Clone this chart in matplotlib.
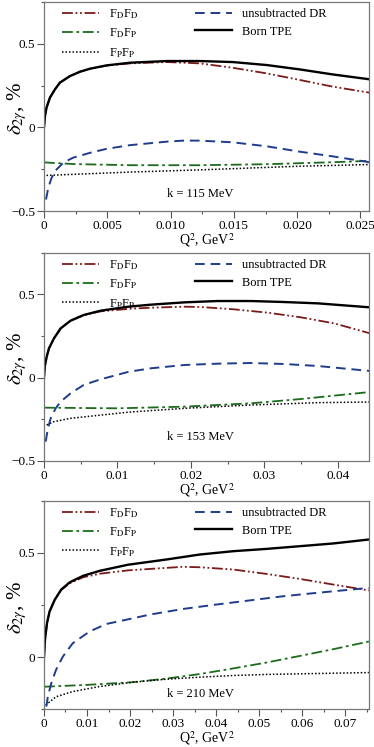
import matplotlib
matplotlib.use("Agg")
import matplotlib.pyplot as plt
from matplotlib.ticker import MultipleLocator

plt.rcParams["font.family"] = ["Liberation Serif", "DejaVu Serif"]
plt.rcParams["mathtext.fontset"] = "stix"
plt.rcParams["font.size"] = 9

# k = 115 MeV
q1_born = [0.0, 0.00008, 0.0002, 0.00047, 0.00087, 0.00126, 0.00205, 0.00284, 0.00363, 0.00495, 0.0068, 0.0097, 0.0123, 0.0149, 0.0176, 0.0202, 0.0228, 0.0257]
born1 = [0.0, 0.068, 0.118, 0.178, 0.228, 0.268, 0.307, 0.333, 0.351, 0.371, 0.387, 0.397, 0.397, 0.391, 0.373, 0.347, 0.317, 0.288]
q1_dd = [0.0, 0.00008, 0.0002, 0.00047, 0.00087, 0.00126, 0.00205, 0.00284, 0.00363, 0.00495, 0.0068, 0.0097, 0.0123, 0.0149, 0.0176, 0.0202, 0.0228, 0.0257]
dd1 = [0.0, 0.068, 0.118, 0.178, 0.228, 0.268, 0.307, 0.333, 0.351, 0.370, 0.383, 0.391, 0.383, 0.357, 0.323, 0.284, 0.244, 0.208]
q1_dr = [0.00016, 0.00034, 0.0006, 0.001, 0.00153, 0.0023, 0.00363, 0.00495, 0.0068, 0.0097, 0.011, 0.0123, 0.0149, 0.0176, 0.0202, 0.0228, 0.0257]
dr1 = [-0.431, -0.361, -0.301, -0.251, -0.211, -0.181, -0.152, -0.128, -0.106, -0.085, -0.079, -0.079, -0.089, -0.113, -0.145, -0.173, -0.208]
q1_dp = [0.0, 0.0023, 0.0068, 0.0123, 0.0176, 0.0228, 0.0257]
dp1 = [-0.209, -0.219, -0.226, -0.226, -0.220, -0.208, -0.200]
q1_pp = [0.0002, 0.0068, 0.0123, 0.0202, 0.0257]
pp1 = [-0.287, -0.267, -0.254, -0.232, -0.222]

# k = 153 MeV
q2_born = [0.0, 0.0001, 0.00037, 0.00068, 0.00136, 0.00227, 0.00362, 0.0054, 0.0077, 0.0115, 0.0145, 0.0191, 0.0236, 0.0282, 0.0327, 0.0373, 0.0444]
born2 = [0.0, 0.066, 0.126, 0.176, 0.236, 0.296, 0.342, 0.376, 0.402, 0.426, 0.438, 0.452, 0.46, 0.46, 0.454, 0.446, 0.422]
q2_dd = [0.0, 0.0001, 0.00037, 0.00068, 0.00136, 0.00227, 0.00362, 0.0054, 0.0077, 0.0115, 0.0145, 0.0191, 0.0214, 0.0259, 0.0305, 0.035, 0.0395, 0.0444]
dd2 = [0.0, 0.066, 0.126, 0.176, 0.236, 0.296, 0.342, 0.375, 0.398, 0.413, 0.42, 0.426, 0.424, 0.41, 0.39, 0.362, 0.326, 0.266]
q2_dr = [0.00023, 0.00054, 0.00091, 0.00159, 0.00227, 0.00362, 0.0054, 0.0077, 0.0115, 0.0145, 0.0191, 0.0236, 0.0282, 0.0327, 0.0373, 0.0444]
dr2 = [-0.384, -0.304, -0.244, -0.184, -0.144, -0.094, -0.044, -0.01, 0.035, 0.056, 0.076, 0.084, 0.088, 0.082, 0.07, 0.04]
q2_dp = [0.0, 0.010, 0.0191, 0.0282, 0.035, 0.0444]
dp2 = [-0.18, -0.184, -0.174, -0.154, -0.128, -0.086]
q2_pp = [0.00037, 0.00136, 0.00362, 0.0115, 0.0191, 0.0282, 0.0373, 0.0444]
pp2 = [-0.284, -0.264, -0.244, -0.207, -0.184, -0.164, -0.15, -0.146]

# k = 210 MeV
q3_born = [0.0, 0.00023, 0.0007, 0.0013, 0.0025, 0.004, 0.006, 0.0091, 0.013, 0.0195, 0.0284, 0.0362, 0.044, 0.0517, 0.0595, 0.0672, 0.0755]
born3 = [0.0, 0.083, 0.163, 0.219, 0.275, 0.324, 0.359, 0.390, 0.414, 0.443, 0.468, 0.492, 0.508, 0.519, 0.532, 0.545, 0.564]
q3_dd = [0.0, 0.00023, 0.0007, 0.0013, 0.0025, 0.004, 0.006, 0.0091, 0.013, 0.0195, 0.0284, 0.0323, 0.0362, 0.044, 0.0517, 0.0595, 0.0672, 0.0755]
dd3 = [0.0, 0.083, 0.163, 0.219, 0.275, 0.322, 0.354, 0.383, 0.400, 0.416, 0.428, 0.433, 0.431, 0.42, 0.399, 0.375, 0.348, 0.32]
q3_dr = [0.00055, 0.0009, 0.0017, 0.0028, 0.0044, 0.0067, 0.0106, 0.0145, 0.0195, 0.0246, 0.0323, 0.040, 0.0478, 0.0556, 0.0633, 0.0755]
dr3 = [-0.237, -0.189, -0.125, -0.061, 0.003, 0.067, 0.123, 0.159, 0.181, 0.204, 0.231, 0.252, 0.272, 0.292, 0.308, 0.332]
q3_dp = [0.0, 0.010, 0.0207, 0.0284, 0.0362, 0.044, 0.0517, 0.0595, 0.0672, 0.0755]
dp3 = [-0.142, -0.133, -0.120, -0.103, -0.081, -0.054, -0.026, 0.006, 0.038, 0.075]
q3_pp = [0.0004, 0.0028, 0.0067, 0.0129, 0.0207, 0.0284, 0.0362, 0.044, 0.0517, 0.0595, 0.0755]
pp3 = [-0.23, -0.19, -0.165, -0.141, -0.12, -0.106, -0.096, -0.088, -0.083, -0.08, -0.074]

panels = [
    ("k = 115 MeV", 0.0257, -0.5, 0.0025, 0.053,
     (q1_dd, dd1), (q1_dp, dp1), (q1_pp, pp1), (q1_dr, dr1), (q1_born, born1)),
    ("k = 153 MeV", 0.0443, -0.5, 0.005, 0.088,
     (q2_dd, dd2), (q2_dp, dp2), (q2_pp, pp2), (q2_dr, dr2), (q2_born, born2)),
    ("k = 210 MeV", 0.0756, -0.25, 0.005, 0.045,
     (q3_dd, dd3), (q3_dp, dp3), (q3_pp, pp3), (q3_dr, dr3), (q3_born, born3)),
]
labels = [r"F$_\mathrm{D}$F$_\mathrm{D}$", r"F$_\mathrm{D}$F$_\mathrm{P}$",
          r"F$_\mathrm{P}$F$_\mathrm{P}$", "unsubtracted DR", "Born TPE"]
styles = [
    dict(color="#7a1a1a", lw=1.3, ls=(0, (6, 1.5, 1, 1.5, 1, 1.5))),
    dict(color="#1c6b1c", lw=1.3, ls=(0, (6, 2, 1.5, 2))),
    dict(color="black", lw=1.1, ls=(0, (1, 1.3))),
    dict(color="#1f3c8c", lw=1.4, ls=(0, (5, 3))),
    dict(color="black", lw=1.7, ls="-"),
]
majors = [0.005, 0.01, 0.01]
boxes = [(0.7175, 0.9973), (0.3829, 0.6617), (0.0505, 0.3297)]

fig = plt.figure(figsize=(3.74, 7.47), dpi=100)
for (title, xmax, ymin, xminor, ty, *series), major, (b, t) in zip(panels, majors, boxes):
    ax = fig.add_axes([0.1176, b, 0.9875 - 0.1176, t - b])
    for (x, y), lab, st in zip(series, labels, styles):
        ax.plot(x, y, label=lab, **st)
    ax.set_xlim(0, xmax)
    ax.set_ylim(ymin, 0.75)
    ax.xaxis.set_major_locator(MultipleLocator(major))
    ax.xaxis.set_minor_locator(MultipleLocator(xminor))
    ax.yaxis.set_major_locator(MultipleLocator(0.5))
    ax.yaxis.set_minor_locator(MultipleLocator(0.25))
    fmt = "{:.2f}" if major == 0.01 else "{:.3f}"
    ax.xaxis.set_major_formatter(plt.FuncFormatter(lambda v, p, f=fmt: "0" if abs(v) < 1e-9 else f.format(v)))
    ax.yaxis.set_major_formatter(plt.FuncFormatter(lambda v, p: "0" if abs(v) < 1e-9 else f"{v:g}".replace("-", "\u2212")))
    ax.tick_params(which="major", direction="out", length=5, width=0.8, color="#555", labelsize=9.5, pad=1.5)
    ax.tick_params(which="minor", direction="out", length=2.5, width=0.8, color="#555")
    ax.tick_params(top=False, right=False)
    for sp in ax.spines.values():
        sp.set_color("#777")
        sp.set_linewidth(0.9)
    ax.set_xlabel(r"Q$^2$, GeV$^2$", fontsize=10, labelpad=-0.5)
    ax.set_ylabel(r"$\delta_{2\gamma}$, %", fontsize=15)
    ax.yaxis.set_label_coords(-0.045, 0.49)
    ax.text(0.48, ty, title, transform=ax.transAxes, ha="center", va="bottom")
    ax.legend(loc="upper left", bbox_to_anchor=(0.055, 0.975), ncol=2, frameon=False,
              handlelength=3.0, handletextpad=0.8, columnspacing=4.5,
              labelspacing=0.45, borderaxespad=0, borderpad=0)

fig.savefig("out.png", dpi=100)
